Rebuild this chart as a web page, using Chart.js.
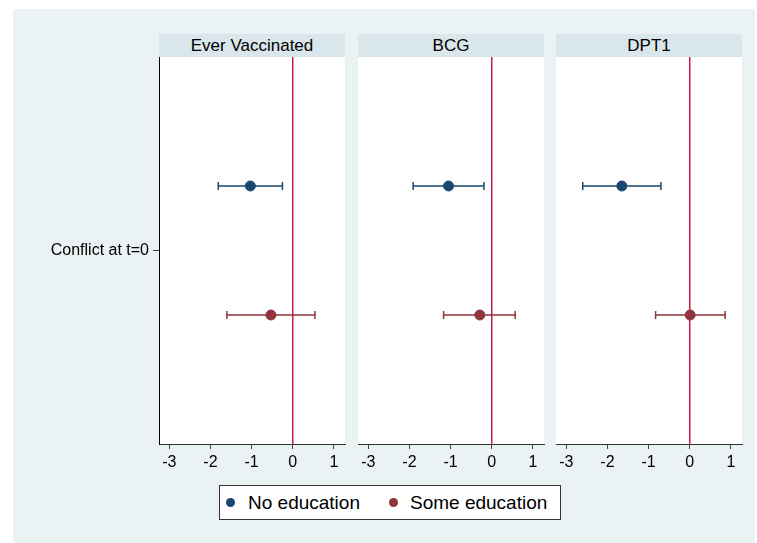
<!DOCTYPE html>
<html>
<head>
<meta charset="utf-8">
<script src="https://cdn.jsdelivr.net/npm/chart.js@4.4.0/dist/chart.umd.min.js"></script>
<style>
  body { margin: 0; background: #fff; font-family: 'Liberation Sans', Arial, sans-serif; }
  #page { position: relative; width: 757px; height: 543px; overflow: hidden; }
  #bg { position: absolute; left: 13px; top: 9px; width: 742px; height: 534px; background: #eaf2f3; }
  .head { position: absolute; top: 34px; width: 186px; height: 23px; line-height: 23px; background: #d9e6eb;
          text-align: center; font-size: 17px; color: #000; }
  .plotbg { position: absolute; top: 57px; width: 186px; height: 387px; background: #fff; }
  canvas { position: absolute; top: 57px; }
  #legend { position: absolute; left: 219px; top: 485px; width: 340px; height: 33px; background: #fff;
            border: 1px solid #333; font-size: 19px; line-height: 33px; }
  .dot { position: absolute; top: 12px; width: 9px; height: 9px; border-radius: 50%; }
  .txt { position: absolute; top: 0; }
</style>
</head>
<body>
<div id="page">
  <div id="bg"></div>
  <div id="legend"></div>
</div>
<script>
const PANELS = ['Ever Vaccinated', 'BCG', 'DPT1'];
const SERIES = ['No education', 'Some education'];
const CATEGORY = ['Conflict at t=0'];
const XTICKS = [-3, -2, -1, 0, 1];

// point estimates and 95% CI, one value per panel
const NOEDU_EST = [-1.03, -1.05, -1.65];
const NOEDU_LO = [-1.81, -1.91, -2.60];
const NOEDU_HI = [-0.25, -0.19, -0.70];
const SOMEEDU_EST = [-0.53, -0.29, 0.01];
const SOMEEDU_LO = [-1.60, -1.17, -0.83];
const SOMEEDU_HI = [0.54, 0.57, 0.86];

const COLORS = ['#1a476f', '#90353b'];
const ZERO_COLOR = '#c8174c';
const FONT = "'Liberation Sans', Arial, sans-serif";

const panelLeft = [159, 358, 556];
const page = document.getElementById('page');

const ciPlugin = {
  id: 'ci',
  beforeDatasetsDraw(chart) {
    const ctx = chart.ctx;
    const xs = chart.scales.x, area = chart.chartArea;
    // zero reference line
    const x0 = xs.getPixelForValue(0);
    ctx.save();
    ctx.strokeStyle = ZERO_COLOR;
    ctx.lineWidth = 1.5;
    ctx.beginPath();
    ctx.moveTo(x0, area.top);
    ctx.lineTo(x0, area.bottom);
    ctx.stroke();
    // confidence intervals
    chart.data.datasets.forEach((ds, i) => {
      const meta = chart.getDatasetMeta(i);
      meta.data.forEach((pt, j) => {
        const lo = xs.getPixelForValue(ds.lo[j]);
        const hi = xs.getPixelForValue(ds.hi[j]);
        const y = pt.y;
        ctx.strokeStyle = ds.backgroundColor;
        ctx.lineWidth = 1.5;
        ctx.beginPath();
        ctx.moveTo(lo, y); ctx.lineTo(hi, y);
        ctx.moveTo(lo, y - 4); ctx.lineTo(lo, y + 4);
        ctx.moveTo(hi, y - 4); ctx.lineTo(hi, y + 4);
        ctx.stroke();
      });
    });
    ctx.restore();
  }
};

PANELS.forEach((title, p) => {
  const first = p === 0;
  const padL = first ? 146 : 20;

  const bgDiv = document.createElement('div');
  bgDiv.className = 'plotbg';
  bgDiv.style.left = panelLeft[p] + 'px';
  page.appendChild(bgDiv);

  const head = document.createElement('div');
  head.className = 'head';
  head.style.left = panelLeft[p] + 'px';
  head.textContent = title;
  page.appendChild(head);

  const cv = document.createElement('canvas');
  cv.width = padL + 186 + 10;
  cv.height = 423;
  cv.style.left = (panelLeft[p] - padL) + 'px';
  cv.style.width = cv.width + 'px';
  cv.style.height = cv.height + 'px';
  page.appendChild(cv);

  new Chart(cv.getContext('2d'), {
    type: 'scatter',
    data: {
      datasets: [
        {
          label: SERIES[0],
          data: [{ x: NOEDU_EST[p], y: 1 + 1 / 6 }],
          lo: [NOEDU_LO[p]], hi: [NOEDU_HI[p]],
          backgroundColor: COLORS[0], borderColor: COLORS[0],
          pointRadius: 5, pointHoverRadius: 5
        },
        {
          label: SERIES[1],
          data: [{ x: SOMEEDU_EST[p], y: 1 - 1 / 6 }],
          lo: [SOMEEDU_LO[p]], hi: [SOMEEDU_HI[p]],
          backgroundColor: COLORS[1], borderColor: COLORS[1],
          pointRadius: 5, pointHoverRadius: 5
        }
      ]
    },
    options: {
      responsive: false,
      animation: false,
      layout: { autoPadding: false, padding: { left: 0, right: 10, top: 0, bottom: 0 } },
      plugins: { legend: { display: false }, tooltip: { enabled: false } },
      scales: {
        x: {
          type: 'linear',
          min: -3.25,
          max: 1.27,
          afterBuildTicks: (s) => { s.ticks = XTICKS.map(v => ({ value: v })); },
          afterFit: (s) => { s.height = 36; s.paddingLeft = 0; s.paddingRight = 0; },
          grid: { drawOnChartArea: false, tickLength: 5, color: '#444' },
          border: { display: true, color: '#333', width: 1 },
          ticks: { padding: 4, color: '#000', font: { family: FONT, size: 16 }, maxRotation: 0 }
        },
        y: {
          type: 'linear',
          min: 0.5,
          max: 1.5,
          afterBuildTicks: (s) => { s.ticks = [{ value: 1 }]; },
          afterFit: (s) => { s.width = padL; s.paddingTop = 0; s.paddingBottom = 0; },
          grid: { display: first, drawOnChartArea: false, tickLength: 6, color: '#444' },
          border: { display: first, color: '#000', width: 1 },
          ticks: {
            display: first,
            padding: 4,
            color: '#000',
            font: { family: FONT, size: 16 },
            callback: () => CATEGORY[0]
          }
        }
      }
    },
    plugins: [ciPlugin]
  });
});

// legend box
const legend = document.getElementById('legend');
const dotLeft = [6, 169];
const txtLeft = [28, 190];
SERIES.forEach((name, i) => {
  const d = document.createElement('span');
  d.className = 'dot';
  d.style.left = dotLeft[i] + 'px';
  d.style.background = COLORS[i];
  legend.appendChild(d);
  const t = document.createElement('span');
  t.className = 'txt';
  t.style.left = txtLeft[i] + 'px';
  t.textContent = name;
  legend.appendChild(t);
});
</script>
</body>
</html>
